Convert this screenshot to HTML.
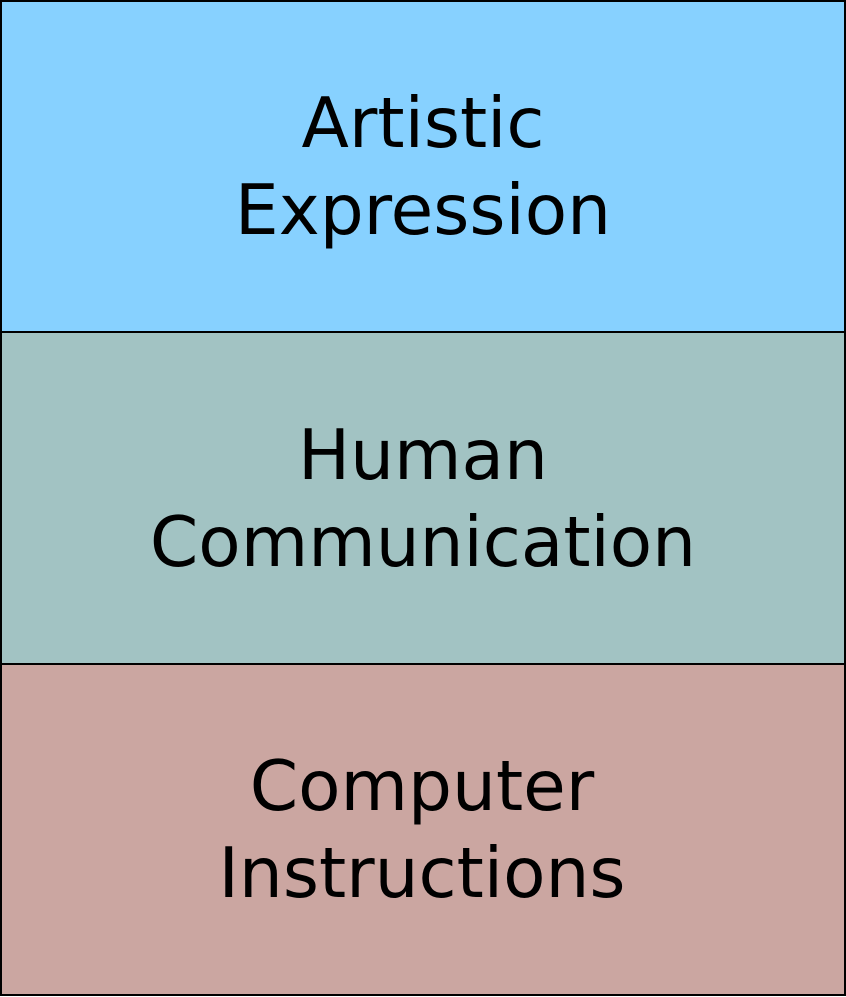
<!DOCTYPE html>
<html><head><meta charset="utf-8"><style>html,body{margin:0;padding:0;background:#fff}svg{display:block}</style></head>
<body>
<svg width="846" height="997" viewBox="0 0 846 997" xmlns="http://www.w3.org/2000/svg">
<rect x="1" y="1" width="844" height="331" fill="#87d1ff" stroke="#000" stroke-width="2"/>
<rect x="1" y="332" width="844" height="332" fill="#a2c3c3" stroke="#000" stroke-width="2"/>
<rect x="1" y="664" width="844" height="331" fill="#cba6a1" stroke="#000" stroke-width="2"/>
<g font-family="DejaVu Sans, sans-serif" font-size="69.3" text-anchor="middle" fill="#000">
<text x="423" y="147">Artistic</text>
<text x="423" y="234">Expression</text>
<text x="423" y="479">Human</text>
<text x="423" y="566">Communication</text>
<text x="422" y="810">Computer</text>
<text x="422" y="897">Instructions</text>
</g>
</svg>
</body></html>
